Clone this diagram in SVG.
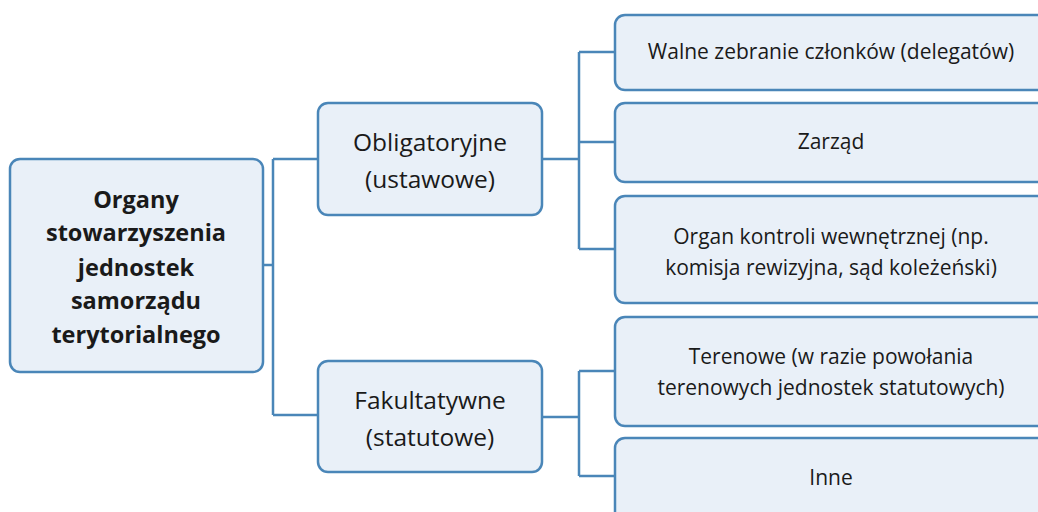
<svg xmlns="http://www.w3.org/2000/svg" width="1038" height="512" viewBox="0 0 1038 512">
<style>
.box{fill:#E9F0F8;stroke:#4A86B8;stroke-width:2.5}
.ln{fill:none;stroke:#4A86B8;stroke-width:2.5}
text{font-family:"Open Sans","Noto Sans",sans-serif;fill:#1a1a1a;text-anchor:middle}
.t{font-size:21px}
.m{font-size:24.5px}
.b{font-size:23.5px;font-weight:bold}
</style>
<rect width="1038" height="512" fill="#fff"/>
<g id="connectors">
<path class="ln" d="M263 265H273M273 159V415M273 159H318M273 415H318"/>
<path class="ln" d="M542 159H579M579 52V249M579 52H615M579 142H615M579 249H615"/>
<path class="ln" d="M542 417H579M579 371V476M579 371H615M579 476H615"/>
</g>
<g id="root">
<rect class="box" x="10" y="159" width="253" height="213" rx="10"/>
<text class="b" x="136" y="208">Organy</text>
<text class="b" x="136" y="241">stowarzyszenia</text>
<text class="b" x="136" y="276">jednostek</text>
<text class="b" x="136" y="309">samorządu</text>
<text class="b" x="136" y="343">terytorialnego</text>
</g>
<g id="obligatoryjne">
<rect class="box" x="318" y="103" width="224" height="112" rx="10"/>
<text class="m" x="430" y="151">Obligatoryjne</text>
<text class="m" x="430" y="188">(ustawowe)</text>
</g>
<g id="fakultatywne">
<rect class="box" x="318" y="361" width="224" height="111" rx="10"/>
<text class="m" x="430" y="409">Fakultatywne</text>
<text class="m" x="430" y="446">(statutowe)</text>
</g>
<g id="walne">
<rect class="box" x="615" y="15" width="432" height="75" rx="10"/>
<text class="t" x="831" y="59">Walne zebranie członków (delegatów)</text>
</g>
<g id="zarzad">
<rect class="box" x="615" y="103" width="432" height="79" rx="10"/>
<text class="t" x="831" y="149">Zarząd</text>
</g>
<g id="kontrola">
<rect class="box" x="615" y="196" width="432" height="107" rx="10"/>
<text class="t" x="831" y="244">Organ kontroli wewnętrznej (np.</text>
<text class="t" x="831" y="275">komisja rewizyjna, sąd koleżeński)</text>
</g>
<g id="terenowe">
<rect class="box" x="615" y="317" width="432" height="109" rx="10"/>
<text class="t" x="831" y="364">Terenowe (w razie powołania</text>
<text class="t" x="831" y="395">terenowych jednostek statutowych)</text>
</g>
<g id="inne">
<rect class="box" x="615" y="438" width="432" height="90" rx="10"/>
<text class="t" x="831" y="485">Inne</text>
</g>
</svg>
